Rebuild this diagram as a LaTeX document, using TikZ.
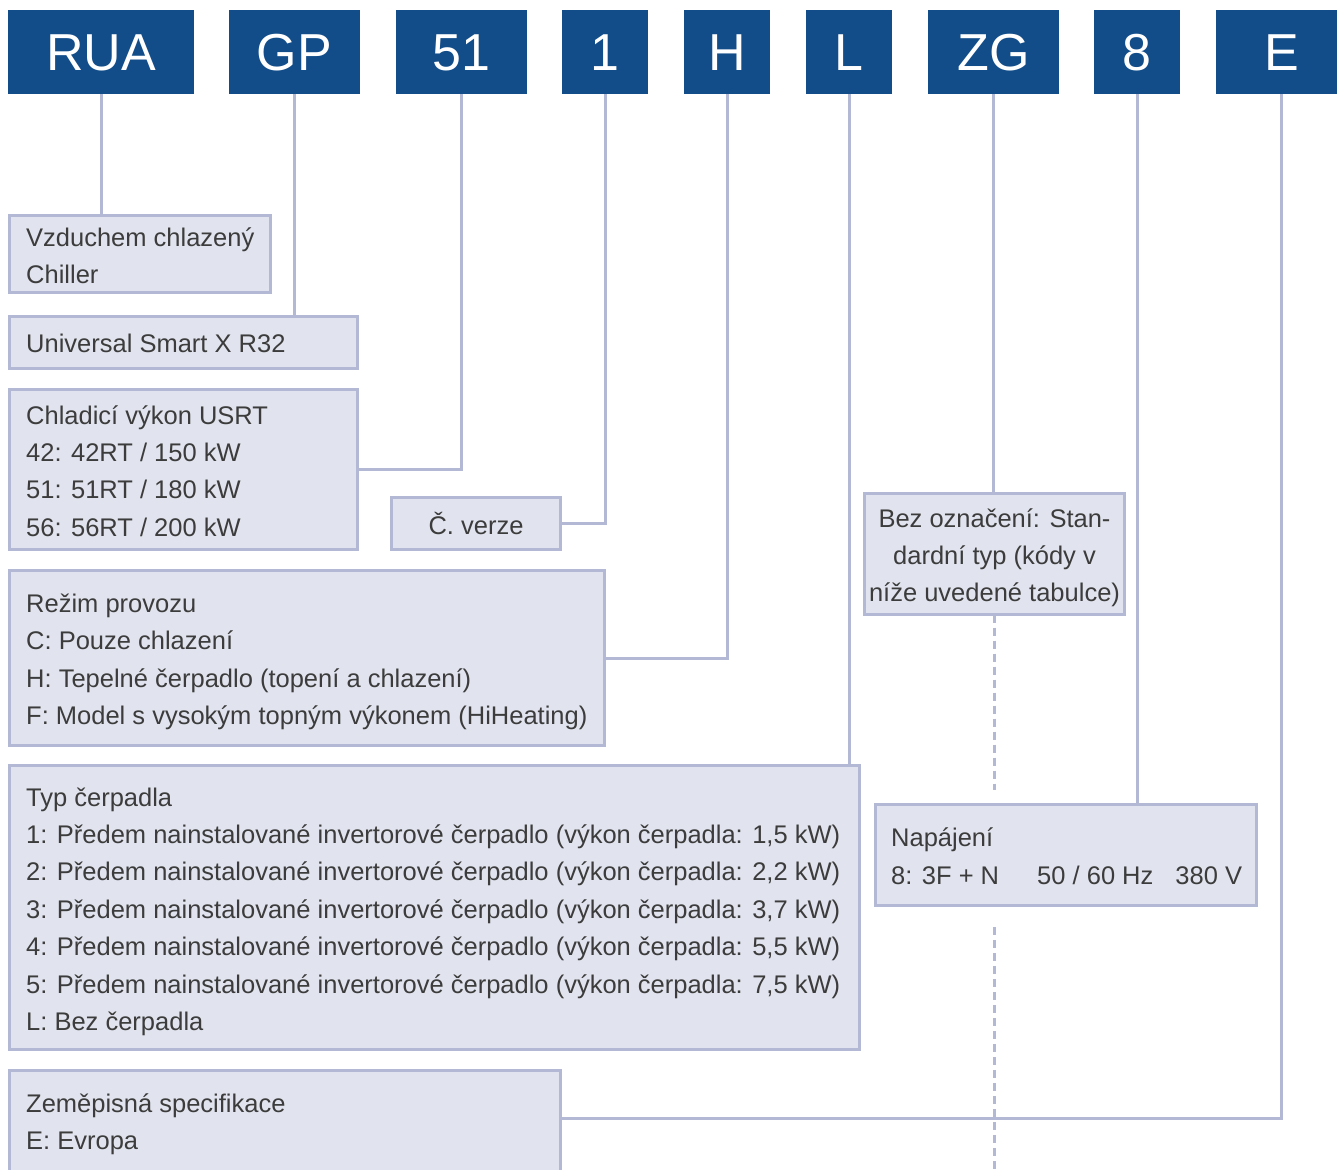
\documentclass[tikz,border=0pt]{standalone}
\usepackage{fontspec}
\setmainfont{Liberation Sans}
\definecolor{topblue}{HTML}{124D8A}
\definecolor{boxfill}{HTML}{E1E4EE}
\definecolor{boxline}{HTML}{B3B8D4}
\definecolor{textgray}{HTML}{3C3C3C}
\tikzset{
  tbox/.style={fill=topblue, text=white, inner sep=0, outer sep=0, minimum height=84pt,
    font=\fontsize{52}{52}\selectfont, text height=37pt, text depth=0pt, anchor=north west},
  lbox/.style={fill=boxfill, draw=boxline, line width=3pt, inner sep=0, outer sep=0, anchor=north west},
  txt/.style={font=\fontsize{25.5}{25.5}\selectfont, text=textgray, inner sep=0, anchor=base west},
  ctxt/.style={font=\fontsize{25.5}{25.5}\selectfont, text=textgray, inner sep=0, anchor=base},
  conn/.style={draw=boxline, line width=3pt},
  dconn/.style={draw=boxline, line width=2.5pt, dash pattern=on 8pt off 5pt},
}
\begin{document}
\begin{tikzpicture}[x=1pt,y=-1pt]
\useasboundingbox[fill=white] (0,0) rectangle (1337,1169);
% top code boxes
\node[tbox, minimum width=186pt] (tRUA) at (8,10) {RUA};
\node[tbox, minimum width=131pt] (tGP) at (229,10) {GP};
\node[tbox, minimum width=131pt] (t51) at (396,10) {51};
\node[tbox, minimum width=86pt] (t1) at (562,10) {1};
\node[tbox, minimum width=86pt] (tH) at (684,10) {H};
\node[tbox, minimum width=86pt] (tL) at (806,10) {L};
\node[tbox, minimum width=131pt] (tZG) at (928,10) {ZG};
\node[tbox, minimum width=86pt] (t8) at (1094,10) {8};
\node[tbox, minimum width=131pt] (tE) at (1216,10) {E};
% label boxes
\node[lbox, minimum width=261pt, minimum height=77pt] (b1) at (9.5,215.5) {};
\node[lbox, minimum width=348pt, minimum height=52pt] (b2) at (9.5,316.5) {};
\node[lbox, minimum width=348pt, minimum height=160pt] (b3) at (9.5,389.5) {};
\node[lbox, minimum width=169pt, minimum height=52pt] (b4) at (391.5,497.5) {};
\node[lbox, minimum width=595pt, minimum height=175pt] (b5) at (9.5,570.5) {};
\node[lbox, minimum width=850pt, minimum height=284pt] (b6) at (9.5,765.5) {};
\node[lbox, minimum width=260pt, minimum height=121pt] (b7) at (864.5,493.5) {};
\node[lbox, minimum width=381pt, minimum height=101pt] (b8) at (875.5,804.5) {};
\node[lbox, minimum width=551pt, minimum height=200pt] (b9) at (9.5,1070.5) {};
\coordinate (e9) at (560.5,1118.5);
\coordinate (d1) at (994.5,790);
\coordinate (d2) at (994.5,927);
\coordinate (d3) at (994.5,1169);
% connectors
\draw[conn] (tRUA.south) -- (tRUA.south |- b1.north);
\draw[conn] (tGP.south) -- (tGP.south |- b2.north);
\draw[conn] (t51.south) |- (b3.east);
\draw[conn] (t1.south) |- (b4.east);
\draw[conn] (tH.south) |- (b5.east);
\draw[conn] (tL.south) -- (tL.south |- b6.north);
\draw[conn] (tZG.south) -- (tZG.south |- b7.north);
\draw[conn] (t8.south) -- (t8.south |- b8.north);
\draw[conn] (tE.south) |- (e9);
\draw[dconn] (b7.south) -- (d1);
\draw[dconn] (d2) -- (d3);
% texts
\node[txt] (x1a) at (26,246) {Vzduchem chlazený};
\node[txt] (x1b) at (26,283) {Chiller};
\node[txt] (x2) at (26,352) {Universal Smart X R32};
\node[txt] (x3a) at (26,424) {Chladicí výkon USRT};
\node[txt] (x3b) at (26,461) {42: 42RT / 150 kW};
\node[txt] (x3c) at (26,498) {51: 51RT / 180 kW};
\node[txt] (x3d) at (26,536) {56: 56RT / 200 kW};
\node[ctxt] (x4) at (476,534) {Č. verze};
\node[txt] (x5a) at (26,612) {Režim provozu};
\node[txt] (x5b) at (26,649) {C: Pouze chlazení};
\node[txt] (x5c) at (26,687) {H: Tepelné čerpadlo (topení a chlazení)};
\node[txt] (x5d) at (26,724) {F: Model s vysokým topným výkonem (HiHeating)};
\node[txt] (x6a) at (26,806) {Typ čerpadla};
\node[txt] (x6b) at (26,843) {1: Předem nainstalované invertorové čerpadlo (výkon čerpadla: 1,5 kW)};
\node[txt] (x6c) at (26,880) {2: Předem nainstalované invertorové čerpadlo (výkon čerpadla: 2,2 kW)};
\node[txt] (x6d) at (26,918) {3: Předem nainstalované invertorové čerpadlo (výkon čerpadla: 3,7 kW)};
\node[txt] (x6e) at (26,955) {4: Předem nainstalované invertorové čerpadlo (výkon čerpadla: 5,5 kW)};
\node[txt] (x6f) at (26,993) {5: Předem nainstalované invertorové čerpadlo (výkon čerpadla: 7,5 kW)};
\node[txt] (x6g) at (26,1030) {L: Bez čerpadla};
\node[ctxt] (x7a) at (994.5,527) {Bez označení: Stan-};
\node[ctxt] (x7b) at (994.5,564) {dardní typ (kódy v};
\node[ctxt] (x7c) at (994.5,601) {níže uvedené tabulce)};
\node[txt] (x8a) at (891,846) {Napájení};
\node[txt] (x8b) at (891,884) {\makebox[146pt][l]{8: 3F + N}50 / 60 Hz\hspace{22pt}380 V};
\node[txt] (x9a) at (26,1112) {Zeměpisná specifikace};
\node[txt] (x9b) at (26,1149) {E: Evropa};
\end{tikzpicture}
\end{document}
